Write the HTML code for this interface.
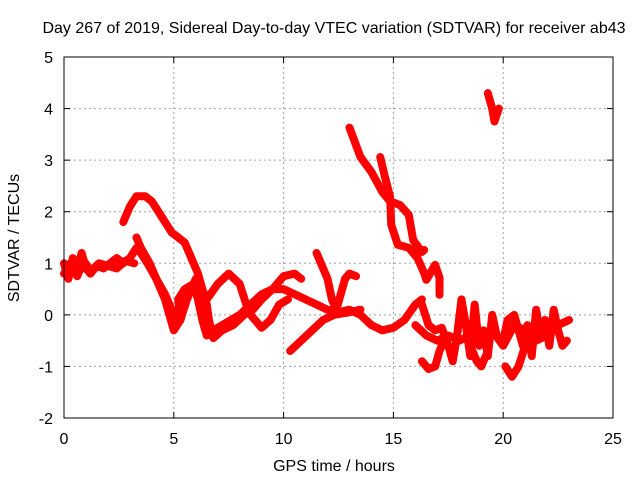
<!DOCTYPE html>
<html><head><meta charset="utf-8"><style>
body{margin:0;background:#fff}
svg text{font-family:"Liberation Sans",sans-serif;font-size:16px;fill:#000}
</style></head><body>
<svg id="chart" width="640" height="480" xmlns="http://www.w3.org/2000/svg">
<text x="334" y="33" text-anchor="middle" style="font-size:16px">Day 267 of 2019, Sidereal Day-to-day VTEC variation (SDTVAR) for receiver ab43</text>
<text x="334" y="471" text-anchor="middle">GPS time / hours</text>
<text transform="translate(19,238) rotate(-90)" text-anchor="middle">SDTVAR / TECUs</text>
<g id="grid"></g><g id="axes"></g><g id="marks"></g>
<rect x="64" y="57" width="549" height="361" fill="none" stroke="#000" stroke-width="1"/>
</svg>
<script>
const xTicks=[0,5,10,15,20,25];
const yTicks=[-2,-1,0,1,2,3,4,5];
const traceAx=[0,0.2,0.4,0.6,0.8,1.0,1.2,1.5,1.8,2.1,2.4,2.7,3.0,3.3,3.5,3.8,4.2,4.6,4.9,5.1,5.3,5.2,5.5,5.9,6.1,6.3,6.5,6.8,7.2,7.6,8.0,8.5,9.0,9.5,10,10.5,11,11.5,12,12.5,13,13.5,14,14.5,15,15.5,16,16.3];
const traceAy=[1.0,0.7,1.1,0.8,1.2,0.9,0.8,0.95,0.9,1.0,1.1,1.0,1.1,1.3,1.2,1.0,0.7,0.4,0.1,-0.2,-0.1,0.3,0.5,0.6,0.3,-0.1,-0.4,-0.3,-0.2,-0.1,0.0,0.2,0.4,0.5,0.5,0.4,0.3,0.2,0.1,0.05,0.1,0.0,-0.2,-0.3,-0.25,-0.1,0.2,0.3];
const traceA2x=[0,0.3,0.6,0.9,1.2,1.6,2.0,2.4,2.8,3.2];
const traceA2y=[0.8,1.0,0.75,1.05,0.85,1.0,0.95,0.9,1.05,1.0];
const traceBx=[2.7,3.0,3.3,3.7,4.0,4.3,4.6,4.9,5.2,5.5,5.8,6.1,6.3,6.5,6.6,6.8,7.2,7.7,8.2,8.6,9.0,9.5,10,10.5,10.8];
const traceBy=[1.8,2.1,2.3,2.3,2.2,2.0,1.8,1.6,1.5,1.4,1.1,0.8,0.5,0.2,-0.1,-0.45,-0.3,-0.2,0.0,0.1,0.3,0.5,0.75,0.8,0.7];
const traceCx=[3.3,3.5,3.9,4.3,4.6,4.8,5.0,5.3,5.6,6.0,6.4];
const traceCy=[1.5,1.3,1.0,0.6,0.3,0.0,-0.3,-0.1,0.3,0.7,0.4];
const traceDx=[6.5,7.0,7.5,8.0,8.3,8.5,9.0,9.4,9.8,10.2];
const traceDy=[0.3,0.6,0.8,0.6,0.2,0.0,-0.25,-0.1,0.2,0.3];
const traceEx=[10.3,10.8,11.3,11.8,12.3,13.0,13.5];
const traceEy=[-0.7,-0.5,-0.3,-0.1,0.0,0.05,0.1];
const traceFx=[11.5,11.8,12.0,12.2,12.4,12.6,12.8,13.0,13.3];
const traceFy=[1.2,0.9,0.7,0.3,0.1,0.4,0.7,0.8,0.75];
const traceGx=[13.0,13.5,14.0,14.5,14.85,15.3,15.7,15.9,16.3,16.4];
const traceGy=[3.63,3.06,2.77,2.38,2.2,2.13,1.94,1.45,1.22,1.26];
const traceG2x=[14.4,14.6,14.85,14.9,15.2,15.7,16.1,16.4,16.5,16.9,17.1,17.1];
const traceG2y=[3.06,2.7,2.29,1.75,1.36,1.3,1.1,0.81,0.68,0.97,0.72,0.39];
const traceHx=[19.3,19.5,19.6,19.8];
const traceHy=[4.3,4.0,3.75,4.0];
const traceIx=[16.3,16.6,16.9,17.2,17.5,17.7,17.9,18.1,18.3,18.5,18.7,18.9,19.1,19.3,19.5,19.7,20,20.2,20.5,20.7,20.9,21.1,21.3,21.5,21.7,21.9,22.1,22.3,22.5,22.7,22.9];
const traceIy=[0.2,-0.2,-0.3,-0.25,-0.6,-0.9,-0.4,0.3,-0.2,-0.8,0.2,-0.6,-0.3,-0.8,0.0,-0.4,-0.5,-0.1,0.0,-0.3,-0.6,-0.2,-0.8,0.1,-0.4,-0.1,-0.6,0.1,-0.3,-0.6,-0.5];
const traceJx=[16.0,16.5,17.0,17.5,18.0,18.5,19.0,19.5,20.0,20.5,21.0,21.5,22.0,22.5,23.0];
const traceJy=[-0.2,-0.4,-0.5,-0.4,-0.5,-0.4,-0.5,-0.3,-0.6,-0.2,-0.3,-0.5,-0.4,-0.2,-0.1];
const traceKx=[16.3,16.6,16.9,17.1,17.3];
const traceKy=[-0.9,-1.05,-1.0,-0.7,-0.5];
const traceLx=[18.5,18.8,19.0,19.2];
const traceLy=[-0.6,-0.9,-1.0,-0.8];
const traceMx=[20.1,20.4,20.7,21.0,21.3];
const traceMy=[-1.0,-1.2,-1.0,-0.6,-0.4];
const traces=[[traceAx,traceAy],[traceA2x,traceA2y],[traceBx,traceBy],[traceCx,traceCy],[traceDx,traceDy],[traceEx,traceEy],[traceFx,traceFy],[traceGx,traceGy],[traceG2x,traceG2y],[traceHx,traceHy],[traceIx,traceIy],[traceJx,traceJy],[traceKx,traceKy],[traceLx,traceLy],[traceMx,traceMy]];
const X0=64,X1=613,Y0=418,Y1=57;
function sx(v){return X0+(v-0)/(25-0)*(X1-X0);}
function sy(v){return Y0-(v+2)/(5+2)*(Y0-Y1);}
const NS="http://www.w3.org/2000/svg";
const grid=document.getElementById('grid'),axes=document.getElementById('axes'),marks=document.getElementById('marks');
function mk(tag,attrs,parent){const e=document.createElementNS(NS,tag);for(const k in attrs)e.setAttribute(k,attrs[k]);parent.appendChild(e);return e;}
xTicks.forEach(t=>{
 const x=sx(t);
 if(t>0&&t<25){const g=mk('line',{x1:x,x2:x,y1:Y1,y2:Y0,stroke:'#a0a0a0','stroke-dasharray':'2,3'},grid);
 
 }
 mk('line',{x1:x,x2:x,y1:Y0,y2:Y0-6,stroke:'#000'},axes);
 mk('line',{x1:x,x2:x,y1:Y1,y2:Y1+6,stroke:'#000'},axes);
 const tx=mk('text',{x:x,y:444,'text-anchor':'middle'},axes);tx.textContent=t;
 
 
});
yTicks.forEach(t=>{
 const y=sy(t);
 if(t>-2&&t<5){const g=mk('line',{x1:X0,x2:X1,y1:y,y2:y,stroke:'#a0a0a0','stroke-dasharray':'2,3'},grid);
 
 }
 mk('line',{x1:X0,x2:X0+6,y1:y,y2:y,stroke:'#000'},axes);
 mk('line',{x1:X1,x2:X1-6,y1:y,y2:y,stroke:'#000'},axes);
 const tx=mk('text',{x:53,y:y+6,'text-anchor':'end'},axes);tx.textContent=t;
 
 
});
traces.forEach((tr,i)=>{
 const pts=tr[0].map((v,j)=>sx(v)+','+sy(tr[1][j])).join(' ');
 const p=mk('polyline',{points:pts,fill:'none',stroke:'#ff0000','stroke-width':8,'stroke-linejoin':'round','stroke-linecap':'round'},marks);
 
 
});
</script>
</body></html>
